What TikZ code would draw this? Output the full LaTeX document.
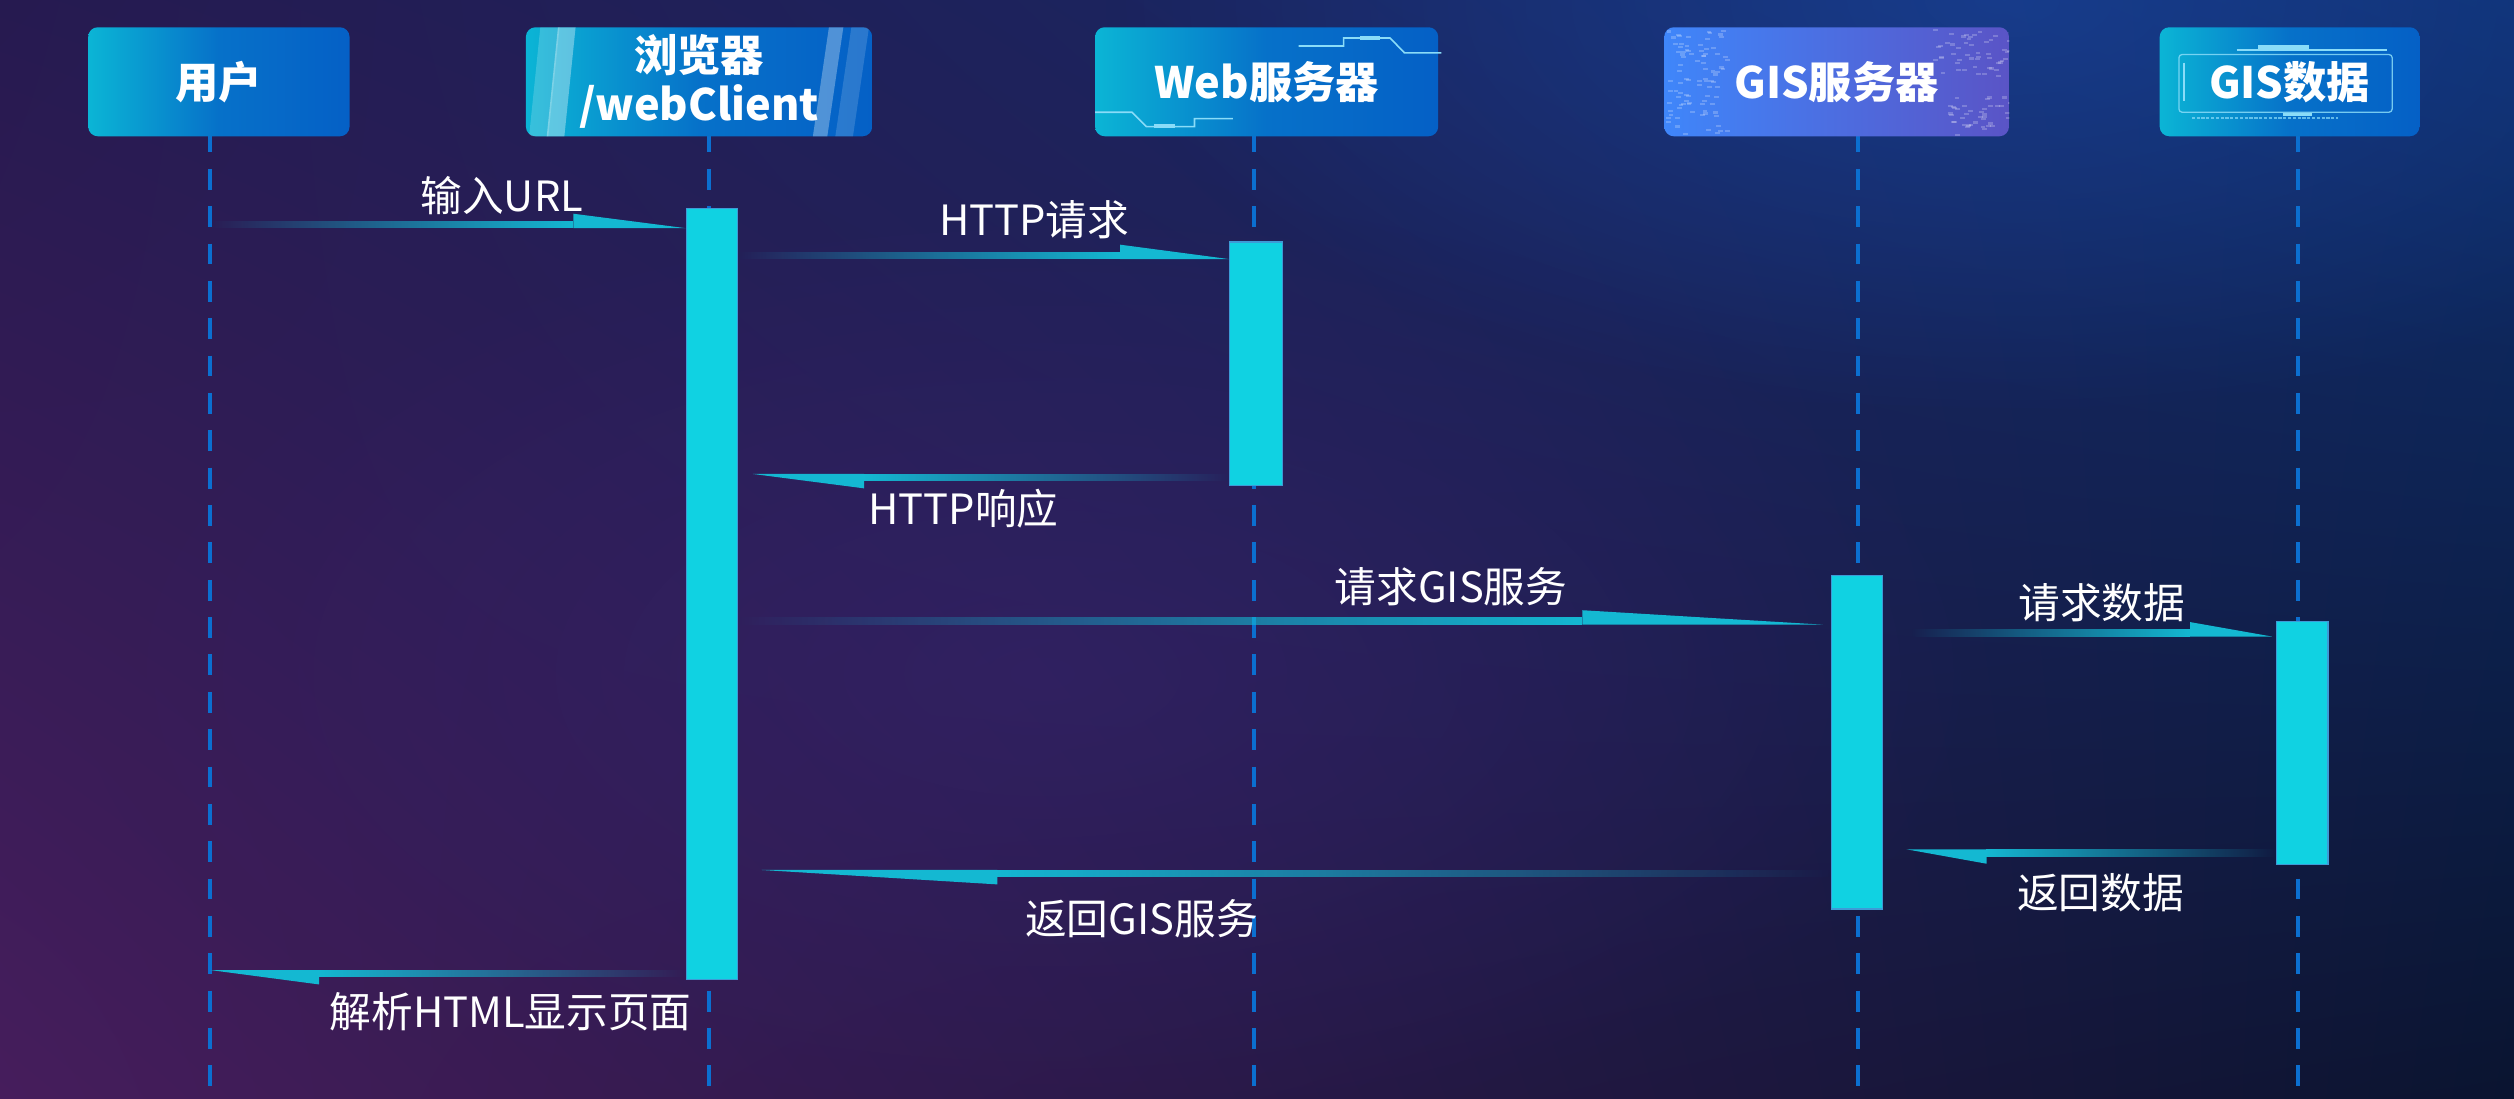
\documentclass[tikz,border=0pt]{standalone}
\usepackage{fontspec}
\newfontfamily\cjk{Noto Sans CJK SC}
\usetikzlibrary{calc,fadings,shadings}
\definecolor{bgUL}{HTML}{261A50}
\definecolor{bgUR}{HTML}{0F2F6E}
\definecolor{bgLL}{HTML}{461D5C}
\definecolor{bgLR}{HTML}{0A1430}
\definecolor{glowBlue}{HTML}{1A4AA8}
\definecolor{glowPurple}{HTML}{3A2470}
\definecolor{boxCyan}{HTML}{0BB5D5}
\definecolor{boxBlue}{HTML}{0560C6}
\definecolor{gisLeft}{HTML}{3F86FA}
\definecolor{gisRight}{HTML}{5A54C6}
\definecolor{lineBlue}{HTML}{0B6FD0}
\definecolor{barCyan}{HTML}{10D2E2}
\definecolor{barEdge}{HTML}{3D9BD6}
\definecolor{arrowCyan}{HTML}{14B8D2}
\definecolor{circuit}{HTML}{8ADCF8}
\tikzfading[name=fadeEast, left color=transparent!100, right color=transparent!0]
\tikzfading[name=fadeWest, left color=transparent!0, right color=transparent!100]
\tikzfading[name=glowFade, inner color=transparent!0, outer color=transparent!100]

\begin{document}
\begin{tikzpicture}[x=1pt, y=-1pt]
	\tikzstyle{headerStyle}=[rounded corners=6pt, minimum height=68pt, inner sep=0pt, text=white, align=center, font=\cjk\bfseries\fontsize{27}{30.5}\selectfont]
	\tikzstyle{blueHeader}=[headerStyle, left color=boxCyan, right color=boxBlue, middle color=boxBlue!80!boxCyan]
	\tikzstyle{gisHeader}=[headerStyle, left color=gisLeft, right color=gisRight]
	\tikzstyle{barStyle}=[fill=barCyan, draw=barEdge, line width=0.8pt, inner sep=0pt, minimum width=32pt]
	\tikzstyle{lifeStyle}=[lineBlue, line width=2.5pt, dash pattern=on 13pt off 10.3pt]
	\tikzstyle{shaftRight}=[fill=arrowCyan, path fading=fadeEast]
	\tikzstyle{shaftLeft}=[fill=arrowCyan, path fading=fadeWest]
	\tikzstyle{headStyle}=[fill=arrowCyan]
	\tikzstyle{msgLabel}=[text=white, inner sep=0pt, font=\cjk\fontsize{26}{30}\selectfont]
	\tikzstyle{circuitStyle}=[circuit, line width=1pt]
	\tikzstyle{codeDot}=[white, opacity=0.22]
	\useasboundingbox (0,0) rectangle (1568,685);
	\shade[upper left=bgUL, upper right=bgUR, lower left=bgLL, lower right=bgLR] (0,0) rectangle (1568,685);
	\begin{scope}
		\clip (0,0) rectangle (1568,685);
		\fill[glowBlue, path fading=glowFade, opacity=0.55] (1250,0) ellipse (560 and 260);
		\fill[glowPurple, path fading=glowFade, opacity=0.5] (650,420) ellipse (600 and 300);
	\end{scope}
	\coordinate (userTop) at (131,82);
	\coordinate (userEnd) at (131,685);
	\coordinate (browserTop) at (442,82);
	\coordinate (browserEnd) at (442,685);
	\coordinate (webTop) at (782,82);
	\coordinate (webEnd) at (782,685);
	\coordinate (gisTop) at (1159,82);
	\coordinate (gisEnd) at (1159,685);
	\coordinate (dataTop) at (1433.5,82);
	\coordinate (dataEnd) at (1433.5,685);
	\draw[lifeStyle] (userTop) -- (userEnd);
	\draw[lifeStyle] (browserTop) -- (browserEnd);
	\draw[lifeStyle] (webTop) -- (webEnd);
	\draw[lifeStyle] (gisTop) -- (gisEnd);
	\draw[lifeStyle] (dataTop) -- (dataEnd);
	\node[blueHeader, minimum width=163pt] (user) at (136.5,51) {用户};
	\node[blueHeader, minimum width=216pt] (browser) at (436,51) {浏览器\\/webClient};
	\node[blueHeader, minimum width=214pt] (web) at (790,51) {Web服务器};
	\node[gisHeader, minimum width=215pt] (gis) at (1145.5,51) {};
	\node[blueHeader, minimum width=162pt] (data) at (1428,51) {GIS数据};
	\begin{scope}
		\clip[rounded corners=6pt] (browser.south west) rectangle (browser.north east);
		\fill[white, opacity=0.18] (330,85) -- (342,85) -- (349,17) -- (337,17) -- cycle;
		\fill[white, opacity=0.35] (341,85) -- (352,85) -- (359,17) -- (348,17) -- cycle;
		\fill[white, opacity=0.3] (507,85) -- (516,85) -- (526,17) -- (517,17) -- cycle;
		\fill[white, opacity=0.15] (521,85) -- (532,85) -- (542,17) -- (531,17) -- cycle;
	\end{scope}
	\begin{scope}
		\clip[rounded corners=6pt] (gis.south west) rectangle (gis.north east);
		\pgfmathsetseed{11}
		\foreach \i in {1,...,90} {
			\pgfmathsetmacro{\nx}{1039+38*rnd}
			\pgfmathsetmacro{\ny}{18+66*rnd}
			\fill[codeDot] (\nx,\ny) rectangle ++(3,1.3);
		}
		\foreach \i in {1,...,50} {
			\pgfmathsetmacro{\nx}{1205+48*rnd}
			\pgfmathsetmacro{\ny}{18+30*rnd}
			\fill[codeDot] (\nx,\ny) rectangle ++(3,1.3);
		}
		\foreach \i in {1,...,40} {
			\pgfmathsetmacro{\nx}{1215+38*rnd}
			\pgfmathsetmacro{\ny}{60+24*rnd}
			\fill[codeDot] (\nx,\ny) rectangle ++(3,1.3);
		}
	\end{scope}
	\node[text=white, font=\cjk\bfseries\fontsize{27}{30.5}\selectfont] (gisName) at (gis) {GIS服务器};
	\draw[circuitStyle] (810,28.7) -- (838,28.7) -- (838,23.7) -- (867,23.7) -- (876,33) -- (899,33);
	\fill[circuit] (848,22.5) rectangle (861,25);
	\draw[circuitStyle] (683,70) -- (706,70) -- (715,79) -- (745,79) -- (745,74) -- (769,74);
	\fill[circuit] (720,77.5) rectangle (733,80);
	\draw[circuitStyle, line width=0.8pt, rounded corners=2pt, opacity=0.85] (1359,34) rectangle (1492,70);
	\draw[circuitStyle] (1395,31) -- (1489,31);
	\fill[circuit] (1408,28) rectangle (1440,30.5);
	\draw[circuitStyle] (1362,39) -- (1362,63);
	\fill[circuit] (1424,70.5) rectangle (1442,72.5);
	\draw[circuitStyle, line width=1.5pt, dash pattern=on 2pt off 1pt, opacity=0.7] (1367,73.5) -- (1458,73.5);
	\node[barStyle, minimum height=481pt] (browserBar) at (444,370.5) {};
	\node[barStyle, minimum width=33pt, minimum height=152pt] (webBar) at (783.5,227) {};
	\node[barStyle, minimum height=208pt] (gisBar) at (1158.3,463) {};
	\node[barStyle, minimum height=151.5pt] (dataBar) at (1436,463.3) {};
	\coordinate (urlTail) at (131,142.3);
	\coordinate (urlTip) at (browserBar.west |- urlTail);
	\fill[shaftRight] (urlTail) rectangle ($(urlTip)+(-70,-4.5)$);
	\fill[headStyle] (urlTip) -- ($(urlTip)+(-70,-9)$) -- ($(urlTip)+(-70,0)$) -- cycle;
	\coordinate (reqTail) at (browserBar.east |- 0,161.6);
	\coordinate (reqTip) at (webBar.west |- reqTail);
	\fill[shaftRight] (reqTail) rectangle ($(reqTip)+(-68,-4.5)$);
	\fill[headStyle] (reqTip) -- ($(reqTip)+(-68,-9)$) -- ($(reqTip)+(-68,0)$) -- cycle;
	\coordinate (respTail) at (webBar.west |- 0,295.6);
	\coordinate (respTip) at (469.5,295.6);
	\fill[shaftLeft] ($(respTip)+(69.5,0)$) rectangle ($(respTail)+(0,4.5)$);
	\fill[headStyle] (respTip) -- ($(respTip)+(69.5,9)$) -- ($(respTip)+(69.5,0)$) -- cycle;
	\coordinate (gisReqTail) at (browserBar.east |- 0,389.6);
	\coordinate (gisReqTip) at (1137,389.6);
	\fill[shaftRight] (gisReqTail) rectangle ($(gisReqTip)+(-150,-4.5)$);
	\fill[headStyle] (gisReqTip) -- ($(gisReqTip)+(-150,-9)$) -- ($(gisReqTip)+(-150,0)$) -- cycle;
	\coordinate (dataReqTail) at (1192,397);
	\coordinate (dataReqTip) at (1417,397);
	\fill[shaftRight] (dataReqTail) rectangle ($(dataReqTip)+(-51,-4.5)$);
	\fill[headStyle] (dataReqTip) -- ($(dataReqTip)+(-51,-9)$) -- ($(dataReqTip)+(-51,0)$) -- cycle;
	\coordinate (dataRetTail) at (dataBar.west |- 0,529.7);
	\coordinate (dataRetTip) at (1189,529.7);
	\fill[shaftLeft] ($(dataRetTip)+(50,0)$) rectangle ($(dataRetTail)+(0,4.5)$);
	\fill[headStyle] (dataRetTip) -- ($(dataRetTip)+(50,9)$) -- ($(dataRetTip)+(50,0)$) -- cycle;
	\coordinate (gisRetTail) at (gisBar.west |- 0,542.6);
	\coordinate (gisRetTip) at (475,542.6);
	\fill[shaftLeft] ($(gisRetTip)+(147,0)$) rectangle ($(gisRetTail)+(0,4.5)$);
	\fill[headStyle] (gisRetTip) -- ($(gisRetTip)+(147,9)$) -- ($(gisRetTip)+(147,0)$) -- cycle;
	\coordinate (htmlTail) at (browserBar.west |- 0,605);
	\coordinate (htmlTip) at (userTop |- htmlTail);
	\fill[shaftLeft] ($(htmlTip)+(68,0)$) rectangle ($(htmlTail)+(0,4.5)$);
	\fill[headStyle] (htmlTip) -- ($(htmlTip)+(68,9)$) -- ($(htmlTip)+(68,0)$) -- cycle;
	\node[msgLabel] (urlText) at (313,122) {输入URL};
	\node[msgLabel] (reqText) at (645,137) {HTTP请求};
	\node[msgLabel] (respText) at (601,317) {HTTP响应};
	\node[msgLabel] (gisReqText) at (905,366) {请求GIS服务};
	\node[msgLabel] (dataReqText) at (1311,376) {请求数据};
	\node[msgLabel] (dataRetText) at (1310,557) {返回数据};
	\node[msgLabel] (gisRetText) at (712,573) {返回GIS服务};
	\node[msgLabel] (htmlText) at (318.5,631) {解析HTML显示页面};
\end{tikzpicture}
\end{document}
